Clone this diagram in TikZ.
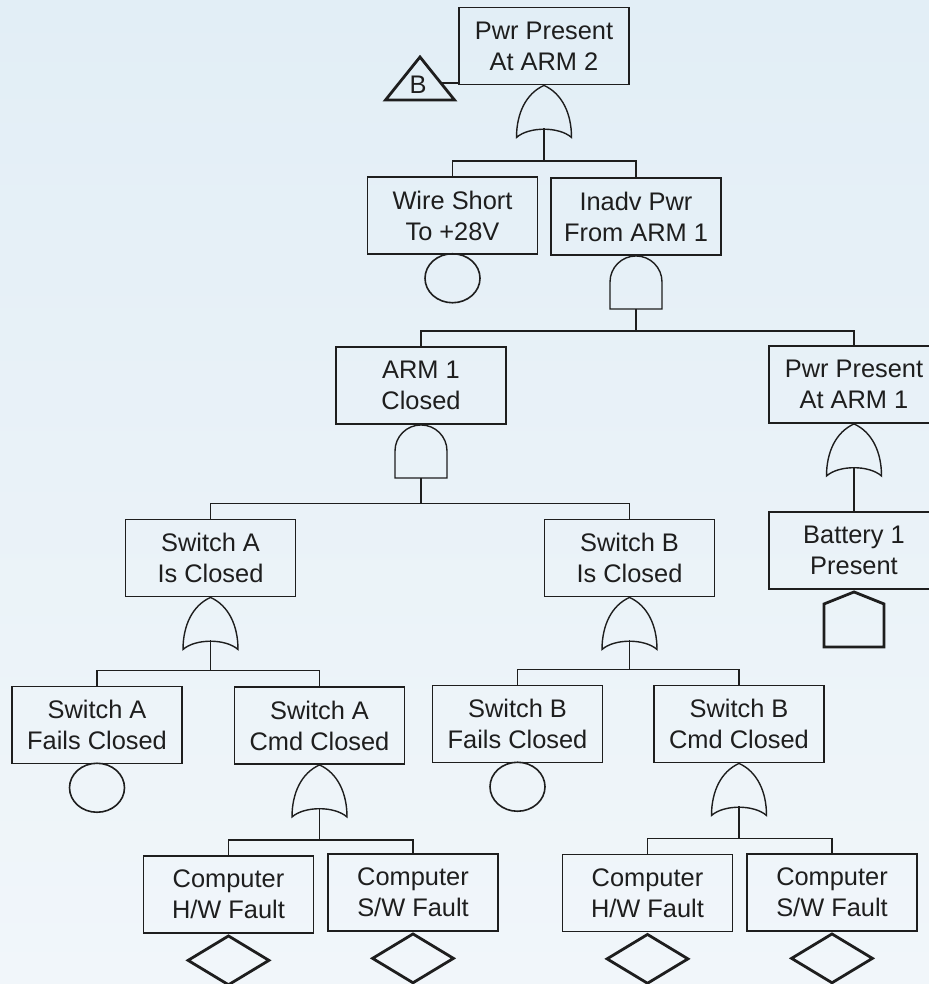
\documentclass[tikz,border=0pt]{standalone}
\usepackage{fontspec}
\setmainfont{Liberation Sans}
\usetikzlibrary{shapes.geometric,positioning}
\definecolor{bgtop}{HTML}{E2EEF6}
\definecolor{bgbot}{HTML}{F1F6FA}
\definecolor{ink}{HTML}{1E1E1E}

\tikzset{
  orgate/.pic={
    \draw[gate] (0,0) .. controls (18,8) and (27.5,28) .. (27.5,52)
      .. controls (15,41) and (-15,41) .. (-27.5,52)
      .. controls (-27.5,28) and (-18,8) .. (0,0) -- cycle;
    \coordinate (-out) at (0,43);},
  andgate/.pic={
    \draw[gate] (-26,53) -- (-26,26) arc[start angle=180,end angle=360,radius=26] -- (26,53) -- cycle;
    \coordinate (-out) at (0,53);},
  house/.pic={
    \draw[heavy] (0,0) -- (30,12) -- (30,55) -- (-30,55) -- (-30,12) -- cycle;},
  xfer/.pic={
    \draw[heavy] (0,0) -- (34.5,43) -- (-34.5,43) -- cycle;
    \node[txt] at (-2,27.5) {B};
    \coordinate (-r) at (20.9,26);}
}

\begin{document}
\begin{tikzpicture}[x=0.5pt,y=-0.5pt,ink,
    txt/.style={font=\fontsize{12.7pt}{15.5pt}\selectfont,text=ink,inner sep=0pt},
    box/.style={txt,draw,line width=0.95pt,minimum width=85pt,minimum height=38.5pt,align=center},
    gate/.style={line width=0.7pt},
    heavy/.style={line width=1.4pt,line join=miter},
    wire/.style={line width=0.85pt},
    basic/.style={draw,ellipse,line width=0.8pt,minimum width=27.5pt,minimum height=24.5pt,inner sep=0pt},
    undev/.style={draw,diamond,line width=1.4pt,minimum width=41pt,minimum height=25pt,inner sep=0pt}]
  \useasboundingbox (0,0) rectangle (929,984);
  \shade[top color=bgtop,bottom color=bgbot] (0,0) rectangle (929,984);

  \node[box] (top) at (544,46) {Pwr Present\\At ARM 2};
  \node[box] (wire) at (452.5,215.5) {Wire Short\\To +28V};
  \node[box] (inadv) at (636,216.5) {Inadv Pwr\\From ARM 1};
  \node[box] (arm1) at (421,385.5) {ARM 1\\Closed};
  \node[box] (pwr1) at (854,384.5) {Pwr Present\\At ARM 1};
  \node[box] (swA) at (210.5,558) {Switch A\\Is Closed};
  \node[box] (swB) at (629.5,558) {Switch B\\Is Closed};
  \node[box] (bat) at (854,550.5) {Battery 1\\Present};
  \node[box] (swAf) at (97,725) {Switch A\\Fails Closed};
  \node[box] (swAc) at (319.5,725.5) {Switch A\\Cmd Closed};
  \node[box] (swBf) at (517.5,724) {Switch B\\Fails Closed};
  \node[box] (swBc) at (739,724) {Switch B\\Cmd Closed};
  \node[box] (hwA) at (228.5,894.5) {Computer\\H/W Fault};
  \node[box] (swwA) at (413,892.5) {Computer\\S/W Fault};
  \node[box] (hwB) at (647.5,893) {Computer\\H/W Fault};
  \node[box] (swwB) at (832,892.5) {Computer\\S/W Fault};

  % gates hang from the bottom of their event box
  \pic (g1) at (top.south) {orgate};
  \pic (g2) at (inadv.south) {andgate};
  \pic (g3) at (arm1.south) {andgate};
  \pic (g4) at (pwr1.south) {orgate};
  \pic (g5) at (swA.south) {orgate};
  \pic (g6) at (swB.south) {orgate};
  \pic (g7) at (swAc.south) {orgate};
  \pic (g8) at (swBc.south) {orgate};

  \node[basic,below=-1pt of wire] (e1) {};
  \node[basic,below=-1pt of swAf] (e2) {};
  \node[basic,below=-1pt of swBf] (e3) {};
  \node[undev,below=0pt of hwA] (d1) {};
  \node[undev,below=0pt of swwA] (d2) {};
  \node[undev,below=0pt of hwB] (d3) {};
  \node[undev,below=0pt of swwB] (d4) {};
  \pic at ([yshift=-1pt]bat.south) {house};
  \pic (tb) at (420,57) {xfer};

  \draw[wire] (tb-r) -- (tb-r -| top.west);
  \draw[wire] (wire.north) -- ++(0,-15) coordinate (b1) -| (inadv.north);
  \draw[wire] (g1-out) -- (g1-out |- b1);
  \draw[wire] (arm1.north) -- ++(0,-15) coordinate (b2) -| (pwr1.north);
  \draw[wire] (g2-out) -- (g2-out |- b2);
  \draw[wire] (swA.north) -- ++(0,-15) coordinate (b3) -| (swB.north);
  \draw[wire] (g3-out) -- (g3-out |- b3);
  \draw[wire] (g4-out) -- (bat.north);
  \draw[wire] (swAf.north) -- ++(0,-15) coordinate (b4) -| (swAc.north);
  \draw[wire] (g5-out) -- (g5-out |- b4);
  \draw[wire] (swBf.north) -- ++(0,-15) coordinate (b5) -| (swBc.north);
  \draw[wire] (g6-out) -- (g6-out |- b5);
  \draw[wire] (hwA.north) -- ++(0,-15) coordinate (b6) -| (swwA.north);
  \draw[wire] (g7-out) -- (g7-out |- b6);
  \draw[wire] (hwB.north) -- ++(0,-15) coordinate (b7) -| (swwB.north);
  \draw[wire] (g8-out) -- (g8-out |- b7);
\end{tikzpicture}
\end{document}
